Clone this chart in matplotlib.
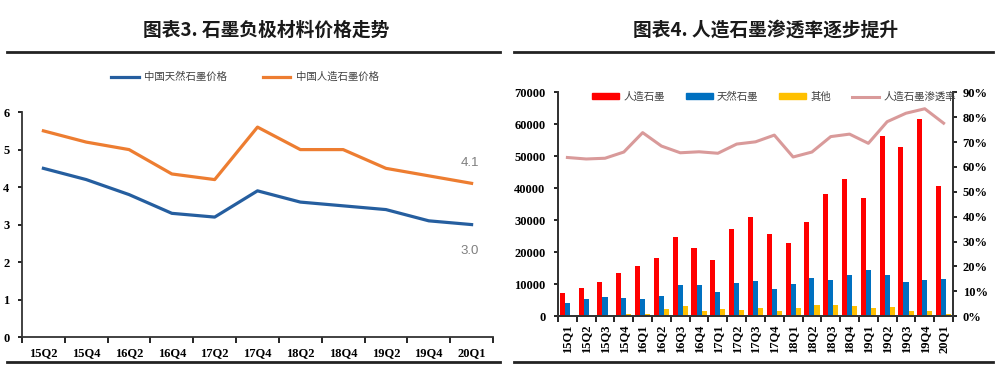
# Graphite anode charts: price trend and artificial graphite share
import numpy as np
import matplotlib.pyplot as plt
from matplotlib.lines import Line2D
from matplotlib.patches import Patch
from matplotlib.ticker import PercentFormatter, FixedLocator

cjk = ['Noto Sans CJK SC', 'DejaVu Sans']
plt.rcParams['font.family'] = cjk

# ---- left chart data
price_quarters = ['15Q2', '15Q4', '16Q2', '16Q4', '17Q2', '17Q4',
                  '18Q2', '18Q4', '19Q2', '19Q4', '20Q1']
natural_price = [4.5, 4.2, 3.8, 3.3, 3.2, 3.9, 3.6, 3.5, 3.4, 3.1, 3.0]
artificial_price = [5.5, 5.2, 5.0, 4.35, 4.2, 5.6, 5.0, 5.0, 4.5, 4.3, 4.1]

# ---- right chart data
quarters = ['15Q1', '15Q2', '15Q3', '15Q4', '16Q1', '16Q2', '16Q3', '16Q4',
            '17Q1', '17Q2', '17Q3', '17Q4', '18Q1', '18Q2', '18Q3', '18Q4',
            '19Q1', '19Q2', '19Q3', '19Q4', '20Q1']
artificial = [7100, 8900, 10700, 13500, 15800, 18300, 24700, 21300, 17500,
              27200, 31100, 25800, 22900, 29300, 38100, 42900, 37100, 56300,
              53000, 61700, 40700]
natural = [4200, 5300, 5900, 5600, 5300, 6200, 9900, 9700, 7400, 10300,
           11000, 8500, 10100, 11800, 11200, 13000, 14500, 13000, 10700,
           11200, 11500]
other = [0, 0, 0, 600, 600, 2300, 3100, 1500, 2100, 2000, 2600, 1500, 2700,
         3600, 3600, 3300, 2400, 2800, 1500, 1500, 600]
penetration = [0.638, 0.632, 0.635, 0.66, 0.738, 0.684, 0.657, 0.661, 0.655,
               0.692, 0.701, 0.728, 0.64, 0.66, 0.722, 0.732, 0.695, 0.782,
               0.816, 0.834, 0.776]

tick_font = dict(family='Liberation Serif', fontweight='bold', fontsize=9)

fig = plt.figure(figsize=(10, 3.8), dpi=100)

# titles and rules
fig.text(0.266, 0.92, '图表3. 石墨负极材料价格走势', ha='center', va='center',
         fontsize=13.5, fontweight='bold', family=cjk, color='#1a1a1a')
fig.text(0.766, 0.92, '图表4. 人造石墨渗透率逐步提升', ha='center', va='center',
         fontsize=13.5, fontweight='bold', family=cjk, color='#1a1a1a')
ry = 1 - 52 / 380
fig.add_artist(Line2D([0.007, 0.5], [ry, ry], color='#222222', lw=2))
fig.add_artist(Line2D([0.514, 0.993], [ry, ry], color='#222222', lw=2))
by = 1 - 362 / 380
fig.add_artist(Line2D([0.007, 0.5], [by, by], color='#222222', lw=2))
fig.add_artist(Line2D([0.514, 0.993], [by, by], color='#222222', lw=2))

# ---- left chart
ax1 = fig.add_axes([0.022, 0.113, 0.471, 0.592])
x1 = np.arange(len(price_quarters))
ax1.plot(x1, natural_price, color='#255E9F', lw=2.3, label='中国天然石墨价格')
ax1.plot(x1, artificial_price, color='#ED7D31', lw=2.3, label='中国人造石墨价格')
ax1.text(x1[-1] - 0.05, artificial_price[-1] + 0.55, '4.1', ha='center',
         va='center', fontsize=9.5, color='#7f7f7f', family='Liberation Sans')
ax1.text(x1[-1] - 0.05, natural_price[-1] - 0.7, '3.0', ha='center',
         va='center', fontsize=9.5, color='#7f7f7f', family='Liberation Sans')
ax1.set_xlim(-0.5, len(price_quarters) - 0.5)
ax1.set_ylim(0, 6)
ax1.set_yticks(range(0, 7))
ax1.set_xticks(x1)
ax1.set_xticklabels(price_quarters, **tick_font)
for lab in ax1.get_yticklabels():
    lab.set(**tick_font)
ax1.xaxis.set_minor_locator(FixedLocator(np.arange(-0.5, len(price_quarters), 1)))
ax1.tick_params(axis='x', which='major', length=0, pad=7)
ax1.tick_params(axis='x', which='minor', length=4, direction='out', width=1.2)
ax1.tick_params(axis='y', length=3, width=1.2, pad=6)
for s in ['top', 'right']:
    ax1.spines[s].set_visible(False)
for s in ['left', 'bottom']:
    ax1.spines[s].set_linewidth(1.3)
    ax1.spines[s].set_color('#333333')
fig.legend(handles=ax1.get_lines(), loc='center', bbox_to_anchor=(0.245, 0.797),
           ncol=2, frameon=False, fontsize=7.5, handlelength=2.6,
           columnspacing=3.5, handletextpad=0.5, labelcolor='#404040')

# ---- right chart
ax2 = fig.add_axes([0.558, 0.168, 0.395, 0.589])
x2 = np.arange(len(quarters))
w = 0.27
ax2.bar(x2 - w, artificial, w, color='#FF0000', label='人造石墨')
ax2.bar(x2, natural, w, color='#0070C0', label='天然石墨')
ax2.bar(x2 + w, other, w, color='#FFC000', label='其他')
ax2.set_xlim(-0.5, len(quarters) - 0.5)
ax2.set_ylim(0, 70000)
ax2.set_yticks(range(0, 70001, 10000))
ax2.set_xticks(x2)
ax2.set_xticklabels(quarters, rotation=90, **tick_font)
for lab in ax2.get_yticklabels():
    lab.set(**tick_font)
ax2.xaxis.set_minor_locator(FixedLocator(np.arange(-0.5, len(quarters), 1)))
ax2.tick_params(axis='x', which='major', length=0, pad=6)
ax2.tick_params(axis='x', which='minor', length=4, direction='out', width=1.2)
ax2.tick_params(axis='y', length=3, width=1.2, pad=6)
ax2.spines['top'].set_visible(False)

ax3 = ax2.twinx()
ax3.plot(x2, penetration, color='#D99A9A', lw=2.2, label='人造石墨渗透率',
         solid_joinstyle='round')
ax3.set_ylim(0, 0.9)
ax3.set_yticks(np.arange(0, 0.91, 0.1))
ax3.yaxis.set_major_formatter(PercentFormatter(1.0, decimals=0))
for lab in ax3.get_yticklabels():
    lab.set(**tick_font)
ax3.tick_params(axis='y', length=3, width=1.2, pad=4)
ax3.spines['top'].set_visible(False)
for a in (ax2, ax3):
    for s in ['left', 'right', 'bottom']:
        a.spines[s].set_linewidth(1.3)
        a.spines[s].set_color('#333333')

handles = [Patch(color='#FF0000', label='人造石墨'),
           Patch(color='#0070C0', label='天然石墨'),
           Patch(color='#FFC000', label='其他'),
           Line2D([0], [0], color='#D99A9A', lw=2.2, label='人造石墨渗透率')]
fig.legend(handles=handles, loc='center', bbox_to_anchor=(0.774, 0.745),
           ncol=4, frameon=False, fontsize=7.5, handlelength=2.6,
           handleheight=0.55, columnspacing=2.0, handletextpad=0.4,
           labelcolor='#404040')

fig.savefig('out.png', dpi=100)
